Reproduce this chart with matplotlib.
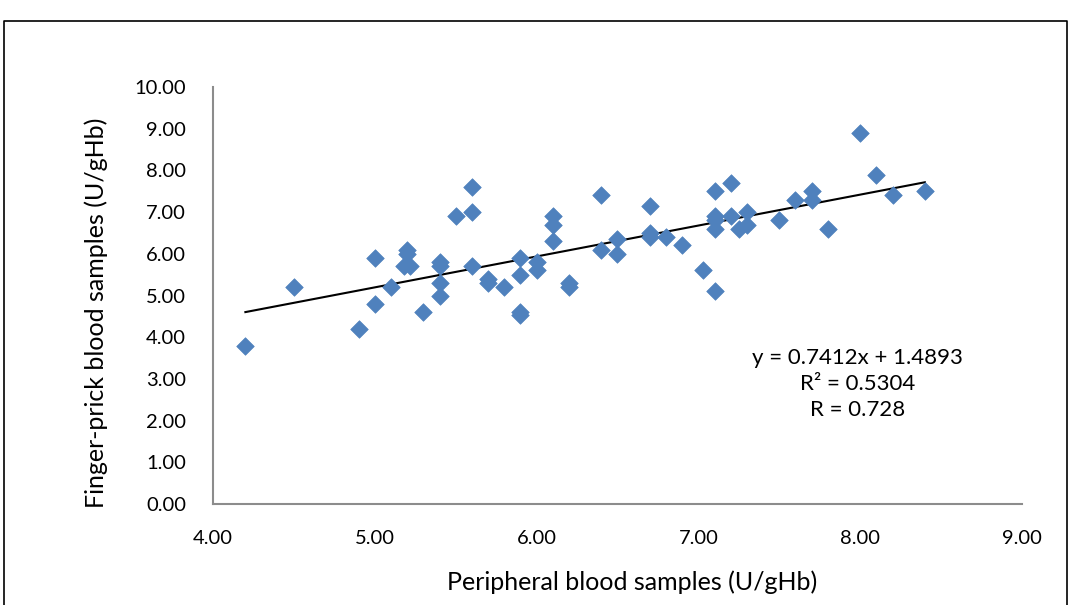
import matplotlib.pyplot as plt
from matplotlib.lines import Line2D

# peripheral (x) vs finger-prick (y), U/gHb
peripheral = [4.2, 4.5, 4.9, 5.0, 5.0, 5.1, 5.2, 5.2, 5.18, 5.22,
              5.3, 5.4, 5.4, 5.4, 5.4, 5.5, 5.6, 5.6, 5.6, 5.7,
              5.7, 5.8, 5.9, 5.9, 5.9, 5.9, 6.0, 6.0, 6.1, 6.1,
              6.1, 6.2, 6.2, 6.4, 6.4, 6.5, 6.5, 6.7, 6.7, 6.7,
              6.8, 6.9, 7.03, 7.1, 7.1, 7.1, 7.1, 7.1, 7.2, 7.2,
              7.25, 7.3, 7.3, 7.5, 7.6, 7.7, 7.7, 7.8, 8.0, 8.1,
              8.2, 8.4]
finger_prick = [3.8, 5.2, 4.2, 4.8, 5.9, 5.2, 6.1, 6.0, 5.7, 5.7,
                4.6, 5.8, 5.7, 5.3, 5.0, 6.9, 7.6, 7.0, 5.7, 5.4,
                5.3, 5.2, 5.9, 5.5, 4.6, 4.53, 5.8, 5.6, 6.9, 6.7,
                6.3, 5.3, 5.2, 7.4, 6.1, 6.35, 6.0, 7.15, 6.5, 6.4,
                6.4, 6.2, 5.6, 7.5, 6.9, 6.8, 6.6, 5.1, 7.7, 6.9,
                6.6, 7.0, 6.7, 6.8, 7.3, 7.5, 7.3, 6.6, 8.9, 7.9,
                7.4, 7.5]

slope, intercept = 0.7412, 1.4893
r_squared, r_value = 0.5304, 0.728

x_ticks = [4.0, 5.0, 6.0, 7.0, 8.0, 9.0]
y_ticks = [0, 1, 2, 3, 4, 5, 6, 7, 8, 9, 10]

plt.rcParams['font.family'] = ['Lato', 'DejaVu Sans']

fig = plt.figure(figsize=(10.71, 6.05), dpi=100)
ax = fig.add_axes([0.1989, 0.1669, 0.7553, 0.6893])

ax.scatter(peripheral, finger_prick, marker='D', s=80, color='#4F81BD',
           edgecolors='#4F81BD', linewidths=0.5, zorder=3)

x_fit = [min(peripheral), max(peripheral)]
ax.plot(x_fit, [slope * v + intercept for v in x_fit], color='black',
        linewidth=1.5, zorder=2)

ax.set_xlim(4, 9)
ax.set_ylim(0, 10)
ax.set_xticks(x_ticks)
ax.set_yticks(y_ticks)
ax.set_xticklabels([f"{v:.2f}" for v in x_ticks])
ax.set_yticklabels([f"{v:.2f}" for v in y_ticks])
ax.tick_params(length=0, labelsize=14.5)
ax.tick_params(axis='y', pad=19.5)
ax.tick_params(axis='x', pad=19)

for side in ['top', 'right']:
    ax.spines[side].set_visible(False)
for side in ['left', 'bottom']:
    ax.spines[side].set_color('#8c8c8c')
    ax.spines[side].set_linewidth(1.5)

ax.set_xlabel("Peripheral blood samples (U/gHb)", fontsize=18)
ax.set_ylabel("Finger-prick blood samples (U/gHb)", fontsize=18)
ax.xaxis.set_label_coords(0.518, -0.158)
ax.yaxis.set_label_coords(-0.130, 0.458)

ax.text(0.797, 0.288,
        f"y = {slope}x + {intercept}\nR² = {r_squared}\nR = {r_value}",
        transform=ax.transAxes, ha='center', va='center', fontsize=16,
        linespacing=1.35)

# outer frame (open at the bottom)
frame_y = 1 - 21 / 605
fig.add_artist(Line2D([0.004, 0.004, 0.996, 0.996], [0, frame_y, frame_y, 0],
                      transform=fig.transFigure, color='black', linewidth=1.2))

fig.savefig("out.png", dpi=100)
